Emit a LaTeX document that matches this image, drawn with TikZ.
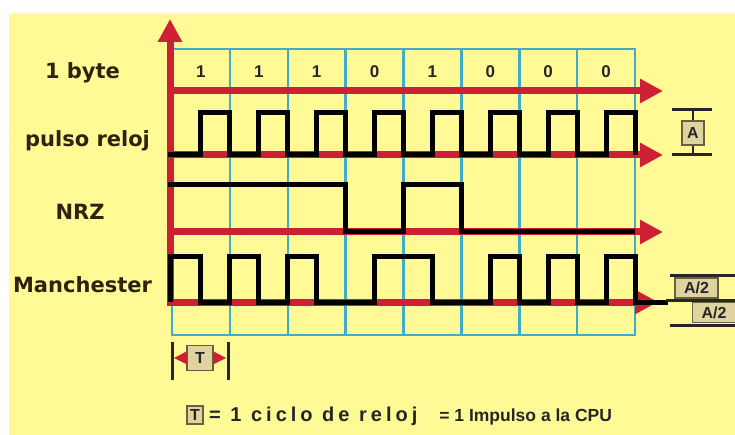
\documentclass[tikz,border=0pt]{standalone}
\usepackage{fontspec}
\setmainfont{Liberation Sans}
\newfontfamily\labfont{DejaVu Sans}
\usetikzlibrary{arrows.meta}
\definecolor{bgyellow}{RGB}{255,250,150}
\definecolor{axisred}{RGB}{205,32,52}
\definecolor{gridcyan}{RGB}{64,172,204}
\definecolor{txtdark}{RGB}{45,35,15}
\definecolor{boxtan}{RGB}{222,212,160}
\definecolor{boxedge}{RGB}{110,95,60}
\begin{document}
\begin{tikzpicture}[x=1pt,y=-1pt,
  redaxis/.style={draw=axisred, line width=7pt, -{Triangle[width=23pt,length=23pt]}},
  gridline/.style={draw=gridcyan, line width=2.5pt},
  signal/.style={draw=black, line width=5pt, line join=miter},
  bar/.style={draw=black!85, line width=3pt},
  rowlabel/.style={font=\labfont\bfseries\fontsize{21}{25}\selectfont, text=txtdark, anchor=base, inner sep=0pt},
  bitlabel/.style={font=\bfseries\fontsize{17}{20}\selectfont, text=black!85, anchor=base, inner sep=0pt},
  valbox/.style={draw=boxedge, line width=1.2pt, fill=boxtan, inner sep=0pt, text=black!85, font=\bfseries\fontsize{16}{19}\selectfont},
  tri/.style={fill=axisred, draw=none}
]
\useasboundingbox (0,0) rectangle (735,435);
\fill[white] (0,0) rectangle (735,435);
\fill[bgyellow] (9,13) rectangle (735,435);

% grid
\def\w{57.875}
\draw[gridline] (172,49) rectangle (635,335);
\foreach \i in {1,...,7} {
  \draw[gridline] ({172+\i*\w},49) -- ({172+\i*\w},335);
}

% bit labels
\foreach \b [count=\i from 0] in {1,1,1,0,1,0,0,0} {
  \node[bitlabel] (bit\i) at ({172+(\i+0.5)*\w},78) {\b};
}

% red axes
\coordinate (o) at (170,303);
\coordinate (ytip) at (170,19);
\draw[redaxis] (o) -- (ytip);
\coordinate (b0) at (167,91);   \coordinate (b1e) at (663,91);
\coordinate (c0) at (167,155);  \coordinate (c1e) at (663,155);
\coordinate (n0) at (167,232);  \coordinate (n1e) at (663,232);
\coordinate (m0) at (167,302);  \coordinate (m1e) at (658,302);
\draw[redaxis] (b0) -- (b1e);
\draw[redaxis] (c0) -- (c1e);
\draw[redaxis] (n0) -- (n1e);
\draw[redaxis] (m0) -- (m1e);

% row labels
\node[rowlabel] (lbyte) at (82.5,79) {1 byte};
\node[rowlabel] (lclk) at (87.5,147) {pulso reloj};
\node[rowlabel] (lnrz) at (80,220) {NRZ};
\node[rowlabel] (lman) at (82.5,292) {Manchester};

% clock signal
\def\cl{155}\def\ch{113}
\draw[signal] (168,\cl)
  \foreach \i in {0,...,7} { -- ({172+(\i+0.5)*\w},\cl) -- ({172+(\i+0.5)*\w},\ch) -- ({172+(\i+1)*\w},\ch) -- ({172+(\i+1)*\w},\cl) };

% NRZ signal
\def\nh{185}\def\nl{232}
\draw[signal] (168,\nh) -- ({172+3*\w},\nh) -- ({172+3*\w},\nl) -- ({172+4*\w},\nl) -- ({172+4*\w},\nh)
  -- ({172+5*\w},\nh) -- ({172+5*\w},\nl) -- (635,\nl);

% Manchester signal
\def\mh{257}\def\ml{302}
\draw[signal] (170,\ml) -- (170,\mh)
  -- ({172+1*\w/2},\mh) -- ({172+1*\w/2},\ml) -- ({172+2*\w/2},\ml) -- ({172+2*\w/2},\mh)
  -- ({172+3*\w/2},\mh) -- ({172+3*\w/2},\ml) -- ({172+4*\w/2},\ml) -- ({172+4*\w/2},\mh)
  -- ({172+5*\w/2},\mh) -- ({172+5*\w/2},\ml) -- ({172+7*\w/2},\ml) -- ({172+7*\w/2},\mh)
  -- ({172+9*\w/2},\mh) -- ({172+9*\w/2},\ml) -- ({172+11*\w/2},\ml) -- ({172+11*\w/2},\mh)
  -- ({172+12*\w/2},\mh) -- ({172+12*\w/2},\ml) -- ({172+13*\w/2},\ml) -- ({172+13*\w/2},\mh)
  -- ({172+14*\w/2},\mh) -- ({172+14*\w/2},\ml) -- ({172+15*\w/2},\ml) -- ({172+15*\w/2},\mh)
  -- ({172+16*\w/2},\mh) -- ({172+16*\w/2},\ml) -- (668,\ml);

% amplitude A
\draw[bar] (672,110) -- (712,110);
\draw[bar] (672,155) -- (712,155);
\node[valbox, minimum width=22pt, minimum height=24pt] (boxA) at (693,133) {A};
\coordinate (atop) at (693,110);
\coordinate (abot) at (693,155);
\draw[draw=black!85, line width=2pt] (atop) -- (boxA.north);
\draw[draw=black!85, line width=2pt] (boxA.south) -- (abot);

% amplitude A/2
\draw[bar] (670,275) -- (735,275);
\draw[bar] (666,300) -- (735,300);
\draw[bar] (670,325) -- (735,325);
\node[valbox, minimum width=43pt, minimum height=20pt] (boxA2a) at (696.5,288) {A/2};
\node[valbox, minimum width=43pt, minimum height=20pt] (boxA2b) at (714,312.5) {A/2};

% period T
\draw[bar] (172,342) -- (172,380);
\draw[bar] (228,342) -- (228,380);
\node[valbox, minimum width=26pt, minimum height=25pt] (boxT) at (200,358) {T};
\fill[tri] (boxT.west) ++(0,-6.5) -- (174,358) -- ++(13,6.5) -- cycle;
\fill[tri] (boxT.east) ++(0,-6.5) -- (226,358) -- ++(-13,6.5) -- cycle;

% legend
\node[valbox, minimum width=16pt, minimum height=18pt] (boxTl) at (195,415) {T};
\node[anchor=base west, inner sep=0pt, text=black!85, font=\bfseries\fontsize{17.5}{20}\selectfont] (legend) at (209,421)
  {{\addfontfeatures{LetterSpace=20}\fontsize{20}{23}\selectfont = 1 ciclo de reloj}\hspace{22pt}= 1 Impulso a la CPU};
\end{tikzpicture}
\end{document}
